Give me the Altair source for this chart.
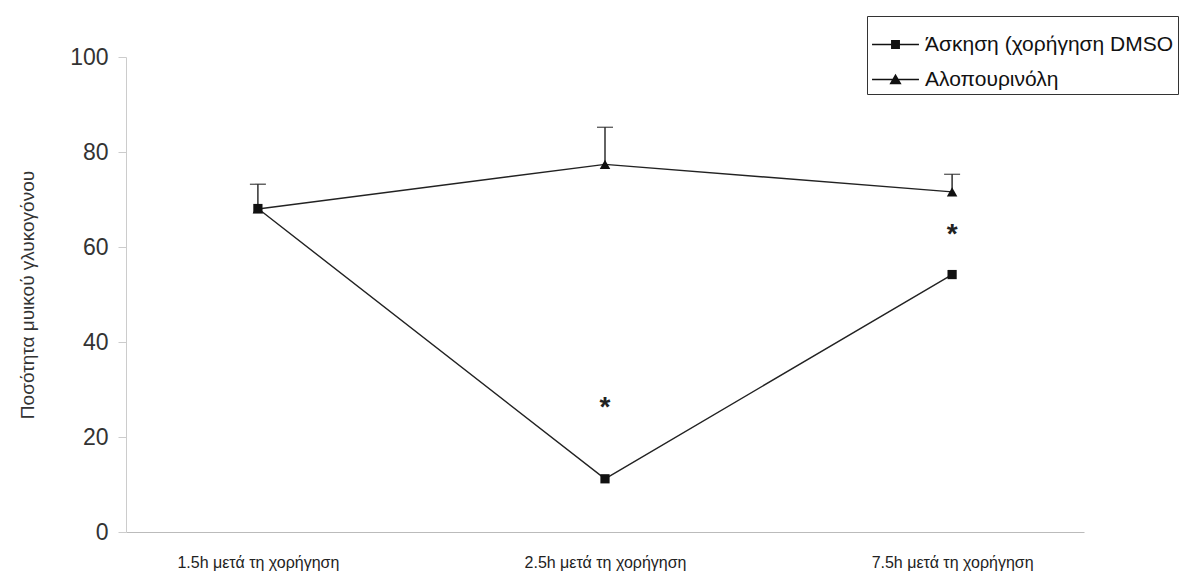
import altair as alt
import pandas as pd

# ---- data ----
categories = ["1.5h μετά τη χορήγηση", "2.5h μετά τη χορήγηση", "7.5h μετά τη χορήγηση"]
series_names = ["Άσκηση (χορήγηση DMSO", "Αλοπουρινόλη"]
exercise_vals = [68.1, 11.2, 54.2]
allopurinol_vals = [68.0, 77.4, 71.6]
allopurinol_err_top = [73.2, 85.2, 75.3]
star_categories = ["2.5h μετά τη χορήγηση", "7.5h μετά τη χορήγηση"]
star_vals = [27.6, 64.0]

FONT = "Liberation Sans"

rows = []
for c, v in zip(categories, exercise_vals):
    rows.append({"cat": c, "series": series_names[0], "value": v})
for c, v in zip(categories, allopurinol_vals):
    rows.append({"cat": c, "series": series_names[1], "value": v})
df = pd.DataFrame(rows)

err_df = pd.DataFrame({"cat": categories, "lo": allopurinol_vals, "hi": allopurinol_err_top})
star_df = pd.DataFrame({"cat": star_categories, "value": star_vals, "label": ["*", "*"]})

x_scale = alt.Scale(type="point", padding=0.38)
x_enc = alt.X(
    "cat:N",
    sort=categories,
    scale=x_scale,
    axis=alt.Axis(
        title=None, labelAngle=0, ticks=False, labelFontSize=16, labelColor="#222",
        labelFont=FONT, labelPadding=22, domainColor="#bbbbbb", domainWidth=1,
    ),
)
y_scale = alt.Scale(domain=[0, 100], nice=False)
y_enc = alt.Y(
    "value:Q",
    scale=y_scale,
    axis=alt.Axis(
        title="Ποσότητα μυικού γλυκογόνου", values=[0, 20, 40, 60, 80, 100],
        grid=False, tickSize=8, tickColor="#cccccc", domainColor="#cccccc",
        labelFontSize=23, labelColor="#333333", labelFont=FONT, labelPadding=10,
        titleFont=FONT, titleFontSize=19, titleFontWeight="normal", titleColor="#333333",
        titlePadding=32,
    ),
)

base = alt.Chart(df)

lines = base.mark_line(color="#222", strokeWidth=1.4).encode(
    x=x_enc, y=y_enc, detail="series:N"
)

squares = base.transform_filter(
    alt.datum.series == series_names[0]
).mark_point(filled=True, color="#111", opacity=1, shape="square", size=85).encode(x=x_enc, y=y_enc)

triangles = base.transform_filter(
    alt.datum.series == series_names[1]
).mark_point(filled=True, color="#111", opacity=1, shape="triangle-up", size=110).encode(x=x_enc, y=y_enc)

err_rule = alt.Chart(err_df).mark_rule(color="#222", strokeWidth=1.4).encode(
    x=alt.X("cat:N", sort=categories, scale=x_scale),
    y=alt.Y("lo:Q", scale=y_scale),
    y2="hi:Q",
)
err_cap = alt.Chart(err_df).mark_tick(color="#222", thickness=1.4, size=16, orient="horizontal").encode(
    x=alt.X("cat:N", sort=categories, scale=x_scale),
    y=alt.Y("hi:Q", scale=y_scale),
)

stars = alt.Chart(star_df).mark_text(
    fontSize=28, font=FONT, fontWeight="bold", color="#222", baseline="alphabetic", dy=15
).encode(
    x=alt.X("cat:N", sort=categories, scale=x_scale),
    y=alt.Y("value:Q", scale=y_scale),
    text="label:N",
)

# legend glyphs: a thin filled bar (the line) plus the marker, as one filled path
legend_paths = [
    "M-1,-0.028H1V0.028H-1ZM-0.19,-0.19H0.19V0.19H-0.19Z",
    "M-1,-0.028H1V0.028H-1ZM0,-0.24L0.26,0.2H-0.26Z",
]
legend_layer = base.mark_point(filled=True, opacity=0, color="#111").encode(
    x=x_enc, y=y_enc,
    shape=alt.Shape(
        "series:N",
        scale=alt.Scale(domain=series_names, range=legend_paths),
        legend=alt.Legend(
            title=None, orient="none", legendX=741, legendY=-41,
            symbolSize=2200, symbolOpacity=1, symbolFillColor="#111",
            labelFont=FONT, labelFontSize=21, labelColor="#111", labelOffset=5,
            rowPadding=-14, padding=4, strokeColor="#333", fillColor="white",
            labelLimit=400, cornerRadius=0,
        ),
    ),
)

chart = (
    alt.layer(lines, err_rule, err_cap, squares, triangles, stars, legend_layer)
    .properties(
        width=958, height=475,
        autosize=alt.AutoSizeParams(type="none"),
        padding={"left": 118, "top": 49, "right": 100, "bottom": 44},
        background="white",
    )
    .configure_view(stroke=None)
)

chart.save("out.html", embed_options={"renderer": "svg", "actions": False})
